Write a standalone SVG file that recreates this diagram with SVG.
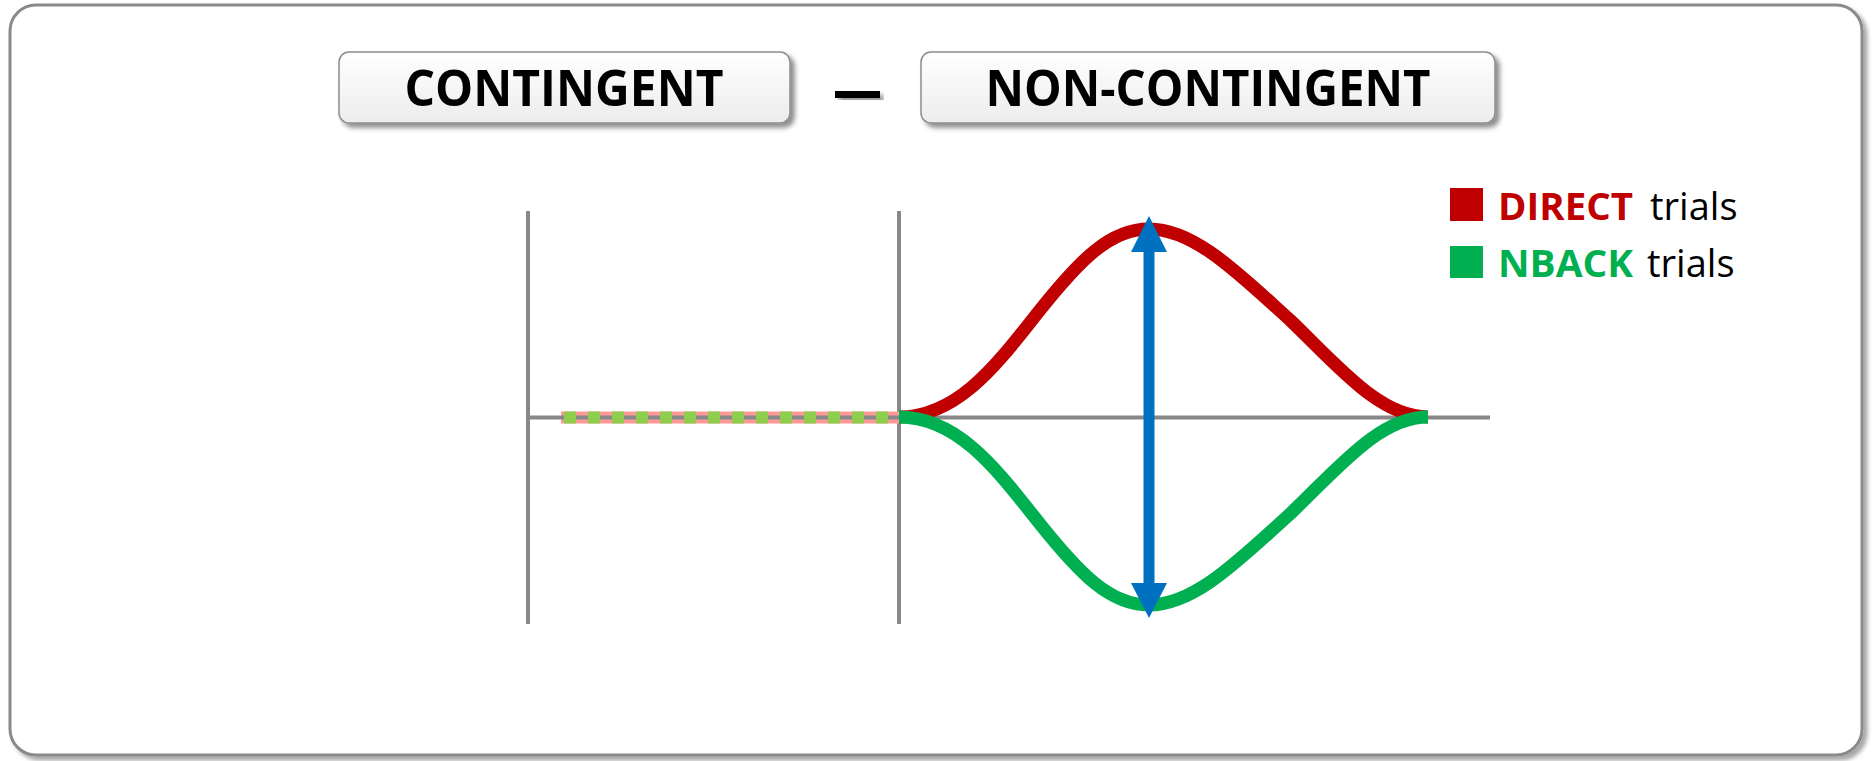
<svg xmlns="http://www.w3.org/2000/svg" width="1873" height="761" viewBox="0 0 1873 761">
<defs>
<style>
.frame{fill:#fff;stroke:#8a8a8a;stroke-width:3}
.box{fill:url(#boxg);stroke:#8c8c8c;stroke-width:1.5}
.title{font-family:"Open Sans","Liberation Sans",sans-serif;font-weight:bold;font-size:50px;fill:#000}
.axis{stroke:#888;stroke-width:4;fill:none}
.leg{font-family:"Open Sans","Liberation Sans",sans-serif;font-size:38px}
</style>
<linearGradient id="boxg" x1="0" y1="0" x2="0" y2="1">
<stop offset="0" stop-color="#ffffff"/>
<stop offset="1" stop-color="#ececec"/>
</linearGradient>
<filter id="sh" x="-5%" y="-5%" width="112%" height="130%">
<feDropShadow dx="4" dy="4" stdDeviation="2.5" flood-color="#000" flood-opacity="0.45"/>
</filter>
<filter id="sh2" x="-5%" y="-5%" width="110%" height="110%">
<feDropShadow dx="4" dy="4" stdDeviation="2" flood-color="#000" flood-opacity="0.35"/>
</filter>
</defs>
<rect class="frame" x="10" y="5" width="1852" height="750" rx="26" filter="url(#sh2)"/>

<g id="contingent">
<rect class="box" x="339" y="52" width="451" height="71" rx="10" filter="url(#sh)"/>
<text class="title" x="564" y="106" text-anchor="middle" textLength="319" lengthAdjust="spacingAndGlyphs">CONTINGENT</text>
</g>
<g id="minus">
<rect x="835" y="91" width="45" height="7" fill="#000" filter="url(#sh)"/>
</g>
<g id="noncontingent">
<rect class="box" x="921" y="52" width="574" height="71" rx="10" filter="url(#sh)"/>
<text class="title" x="1208" y="106" text-anchor="middle" textLength="445" lengthAdjust="spacingAndGlyphs">NON-CONTINGENT</text>
</g>

<g id="legend">
<rect x="1450" y="188" width="33" height="33" fill="#C00000"/>
<text class="leg" x="1498" y="220"><tspan font-weight="bold" fill="#C00000" textLength="135" lengthAdjust="spacingAndGlyphs">DIRECT</tspan><tspan fill="#000" x="1650">trials</tspan></text>
<rect x="1450" y="246" width="33" height="32" fill="#00B050"/>
<text class="leg" x="1498" y="277"><tspan font-weight="bold" fill="#00B050" textLength="135" lengthAdjust="spacingAndGlyphs">NBACK</tspan><tspan fill="#000" x="1647">trials</tspan></text>
</g>

<g id="axes">
<line class="axis" x1="528" y1="211" x2="528" y2="624"/>
<line class="axis" x1="899" y1="211" x2="899" y2="624"/>
<line x1="561" y1="417.5" x2="899" y2="417.5" stroke="#FF9999" stroke-width="12"/>
<line class="axis" x1="528" y1="417.5" x2="1490" y2="417.5"/>
<line x1="561" y1="417.5" x2="899" y2="417.5" stroke="#8FCE4C" stroke-width="12" stroke-dasharray="12 12" stroke-dashoffset="-3"/>
</g>

<g id="connectors" fill="none" stroke-width="13">
<path id="direct" stroke="#C00000" d="M899,417 C960,417 1000,360 1040,310 C1080,260 1110,229 1149,229 C1195,229 1240,275 1290,320 C1340,368 1380,417 1428,417"/>
<path id="nback" stroke="#00B050" d="M899,417 C960,417 1000,474 1040,524 C1080,574 1110,605 1149,605 C1195,605 1240,559 1290,514 C1340,466 1380,417 1428,417"/>
<line id="diff" x1="1149" y1="252" x2="1149" y2="583" stroke="#0070C0" stroke-width="11"/>
<path d="M1149,216 L1167,252 L1131,252 Z" fill="#0070C0" stroke="none"/>
<path d="M1149,618 L1167,583 L1131,583 Z" fill="#0070C0" stroke="none"/>
</g>
</svg>
